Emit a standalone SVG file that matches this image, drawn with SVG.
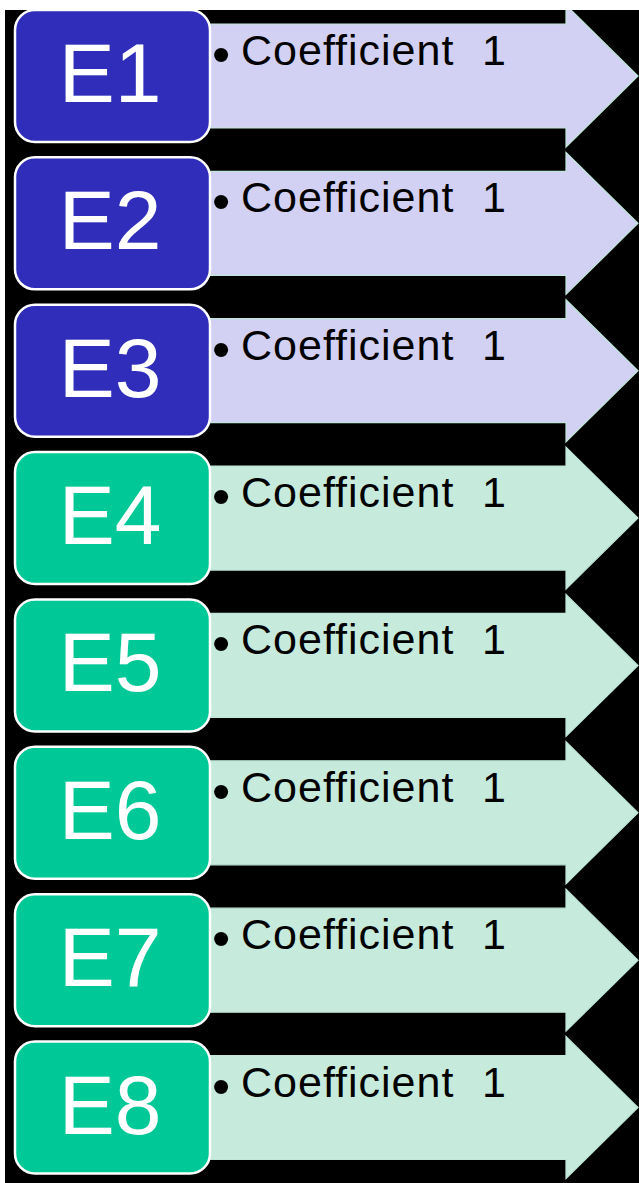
<svg xmlns="http://www.w3.org/2000/svg" width="639" height="1183" viewBox="0 0 639 1183">
<style>
.box{stroke:#ffffff;stroke-width:2.5}
.b1{fill:#2F2DB9}
.b2{fill:#00C896}
.a1{fill:#D2D1F3;stroke:#BFE6D8;stroke-width:1.2}
.a2{fill:#C6EBDC;stroke:#BFE6D8;stroke-width:1.2}
.lab{font-family:"Liberation Sans",Arial,sans-serif;font-size:84px;fill:#ffffff;text-anchor:middle}
.txt{font-family:"Liberation Sans",Arial,sans-serif;font-size:43px;letter-spacing:1px;fill:#000000}
.bul{font-family:"Liberation Sans",Arial,sans-serif;font-size:52px;fill:#000000;text-anchor:middle}
</style>
<defs>
<clipPath id="clip"><rect x="5" y="10" width="634" height="1173"/></clipPath>
</defs>
<rect x="0" y="0" width="639" height="1183" fill="#ffffff"/>
<rect x="5" y="10" width="634" height="1173" fill="#000000"/>
<g clip-path="url(#clip)">
<g id="connectors">
<polygon class="a1" points="205,24 566,24 566,5 638,76 566,147 566,128 205,128"/>
<polygon class="a1" transform="translate(0,147.36)" points="205,24 566,24 566,5 638,76 566,147 566,128 205,128"/>
<polygon class="a1" transform="translate(0,294.72)" points="205,24 566,24 566,5 638,76 566,147 566,128 205,128"/>
<polygon class="a2" transform="translate(0,442.08)" points="205,24 566,24 566,5 638,76 566,147 566,128 205,128"/>
<polygon class="a2" transform="translate(0,589.44)" points="205,24 566,24 566,5 638,76 566,147 566,128 205,128"/>
<polygon class="a2" transform="translate(0,736.8)" points="205,24 566,24 566,5 638,76 566,147 566,128 205,128"/>
<polygon class="a2" transform="translate(0,884.16)" points="205,24 566,24 566,5 638,76 566,147 566,128 205,128"/>
<polygon class="a2" transform="translate(0,1031.52)" points="205,24 566,24 566,5 638,76 566,147 566,128 205,128"/>
</g>
<g id="n1" transform="translate(0,0)">
<rect class="box b1" x="15" y="10" width="195" height="132" rx="20"/>
<text class="lab" x="110" y="102">E1</text>
<text class="bul" x="221" y="72">•</text>
<text class="txt" x="241" y="65">Coefficient<tspan x="482">1</tspan></text>
</g>
<g id="n2" transform="translate(0,147.36)">
<rect class="box b1" x="15" y="10" width="195" height="132" rx="20"/>
<text class="lab" x="110" y="102">E2</text>
<text class="bul" x="221" y="72">•</text>
<text class="txt" x="241" y="65">Coefficient<tspan x="482">1</tspan></text>
</g>
<g id="n3" transform="translate(0,294.72)">
<rect class="box b1" x="15" y="10" width="195" height="132" rx="20"/>
<text class="lab" x="110" y="102">E3</text>
<text class="bul" x="221" y="72">•</text>
<text class="txt" x="241" y="65">Coefficient<tspan x="482">1</tspan></text>
</g>
<g id="n4" transform="translate(0,442.08)">
<rect class="box b2" x="15" y="10" width="195" height="132" rx="20"/>
<text class="lab" x="110" y="102">E4</text>
<text class="bul" x="221" y="72">•</text>
<text class="txt" x="241" y="65">Coefficient<tspan x="482">1</tspan></text>
</g>
<g id="n5" transform="translate(0,589.44)">
<rect class="box b2" x="15" y="10" width="195" height="132" rx="20"/>
<text class="lab" x="110" y="102">E5</text>
<text class="bul" x="221" y="72">•</text>
<text class="txt" x="241" y="65">Coefficient<tspan x="482">1</tspan></text>
</g>
<g id="n6" transform="translate(0,736.8)">
<rect class="box b2" x="15" y="10" width="195" height="132" rx="20"/>
<text class="lab" x="110" y="102">E6</text>
<text class="bul" x="221" y="72">•</text>
<text class="txt" x="241" y="65">Coefficient<tspan x="482">1</tspan></text>
</g>
<g id="n7" transform="translate(0,884.16)">
<rect class="box b2" x="15" y="10" width="195" height="132" rx="20"/>
<text class="lab" x="110" y="102">E7</text>
<text class="bul" x="221" y="72">•</text>
<text class="txt" x="241" y="65">Coefficient<tspan x="482">1</tspan></text>
</g>
<g id="n8" transform="translate(0,1031.52)">
<rect class="box b2" x="15" y="10" width="195" height="132" rx="20"/>
<text class="lab" x="110" y="102">E8</text>
<text class="bul" x="221" y="72">•</text>
<text class="txt" x="241" y="65">Coefficient<tspan x="482">1</tspan></text>
</g>
</g>
</svg>
